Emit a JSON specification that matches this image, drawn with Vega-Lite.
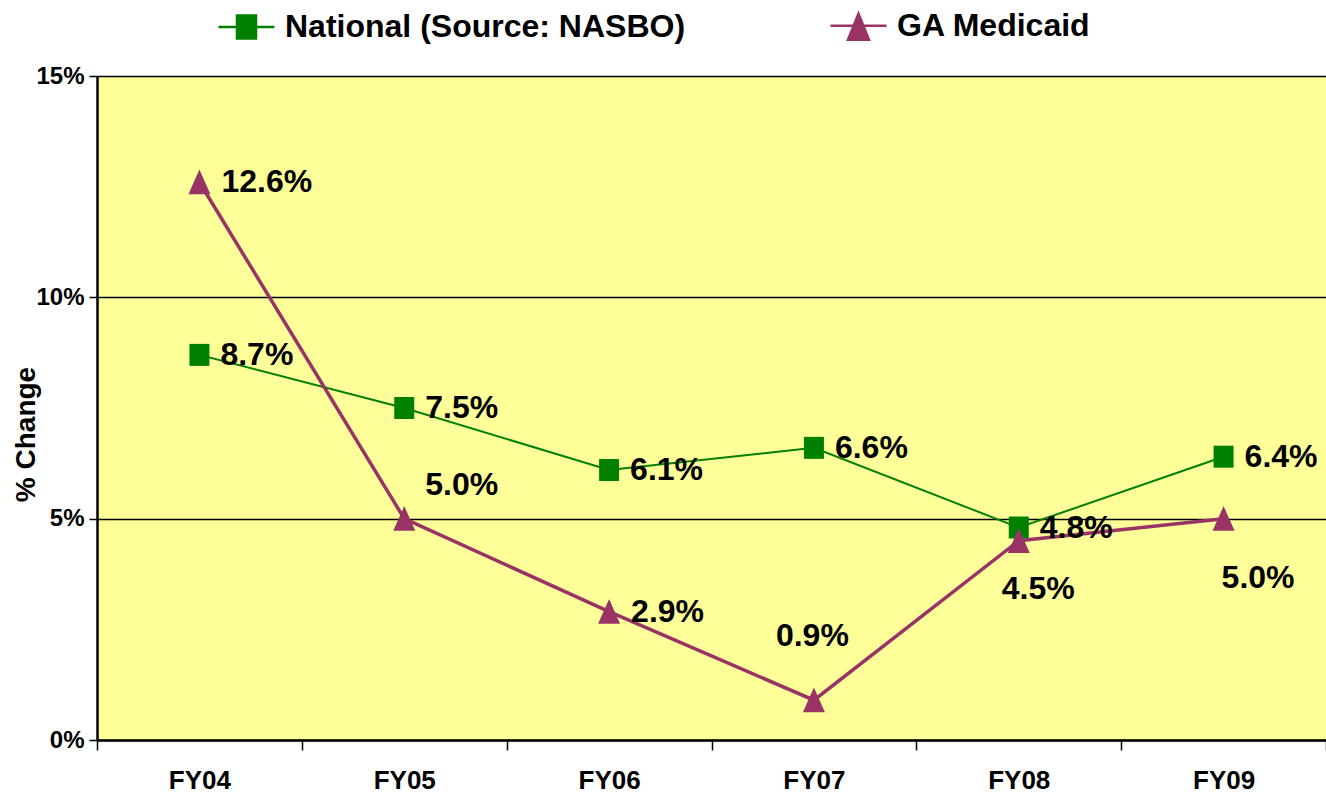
{
  "$schema": "https://vega.github.io/schema/vega-lite/v6.json",
  "width": 1229,
  "height": 664,
  "autosize": "none",
  "padding": {"left": 97, "top": 76, "right": 0, "bottom": 65},
  "background": "white",
  "config": {
    "view": {"fill": "#FFFF99", "stroke": null},
    "font": "Liberation Sans"
  },
  "data": {
    "values": [
      {"year": "FY04", "series": "National (Source: NASBO)", "value": 0.087},
      {"year": "FY05", "series": "National (Source: NASBO)", "value": 0.075},
      {"year": "FY06", "series": "National (Source: NASBO)", "value": 0.061},
      {"year": "FY07", "series": "National (Source: NASBO)", "value": 0.066},
      {"year": "FY08", "series": "National (Source: NASBO)", "value": 0.048},
      {"year": "FY09", "series": "National (Source: NASBO)", "value": 0.064},
      {"year": "FY04", "series": "GA Medicaid", "value": 0.126},
      {"year": "FY05", "series": "GA Medicaid", "value": 0.050},
      {"year": "FY06", "series": "GA Medicaid", "value": 0.029},
      {"year": "FY07", "series": "GA Medicaid", "value": 0.009},
      {"year": "FY08", "series": "GA Medicaid", "value": 0.045},
      {"year": "FY09", "series": "GA Medicaid", "value": 0.050}
    ]
  },
  "encoding": {
    "x": {
      "field": "year",
      "type": "nominal",
      "sort": null,
      "scale": {"type": "band", "paddingInner": 0, "paddingOuter": 0},
      "axis": {
        "title": null,
        "tickBand": "extent",
        "labelAngle": 0,
        "labelFont": "Liberation Sans",
        "labelFontSize": 26,
        "labelFontWeight": "bold",
        "labelColor": "black",
        "labelPadding": 17,
        "tickSize": 10,
        "tickColor": "black",
        "tickWidth": 1.5,
        "domainColor": "black",
        "domainWidth": 2.5,
        "grid": false
      }
    },
    "y": {
      "field": "value",
      "type": "quantitative",
      "scale": {"domain": [0, 0.15], "nice": false},
      "axis": {
        "title": "% Change",
        "values": [0, 0.05, 0.1, 0.15],
        "format": ".0%",
        "labelFont": "Liberation Sans",
        "labelFontSize": 24,
        "labelFontWeight": "bold",
        "labelColor": "black",
        "labelPadding": 5,
        "tickSize": 8,
        "tickColor": "black",
        "tickWidth": 1.5,
        "domainColor": "black",
        "domainWidth": 2.5,
        "grid": true,
        "gridColor": "black",
        "gridWidth": 1.5,
        "titleFont": "Liberation Sans",
        "titleFontSize": 28,
        "titleFontWeight": "bold",
        "titleColor": "black",
        "titleAngle": -90,
        "titleX": -71,
        "titleY": 358,
        "titleAlign": "center",
        "titleBaseline": "middle"
      }
    }
  },
  "layer": [
    {
      "transform": [{"filter": "datum.series == 'National (Source: NASBO)'"}],
      "mark": {"type": "line", "color": "#008000", "strokeWidth": 2}
    },
    {
      "transform": [{"filter": "datum.series == 'National (Source: NASBO)'"}],
      "mark": {"type": "point", "shape": "M-1,-1.1H1V1.1H-1Z", "filled": true, "size": 400, "color": "#008000", "opacity": 1}
    },
    {
      "transform": [{"filter": "datum.series == 'GA Medicaid'"}],
      "mark": {"type": "line", "color": "#993366", "strokeWidth": 3.5}
    },
    {
      "transform": [{"filter": "datum.series == 'GA Medicaid'"}],
      "mark": {"type": "point", "shape": "M0,-1.15L1,1.1H-1Z", "filled": true, "size": 484, "color": "#993366", "opacity": 1}
    },
    {
      "transform": [{"filter": "false"}],
      "mark": {"type": "point", "filled": true, "opacity": 1},
      "encoding": {
        "color": {
          "field": "series",
          "type": "nominal",
          "scale": {"domain": ["National (Source: NASBO)", "GA Medicaid"], "range": ["#008000", "#993366"]},
          "legend": {
            "title": null,
            "orient": "none",
            "legendX": 120,
            "legendY": -80,
            "direction": "horizontal",
            "columns": 2,
            "symbolSize": 3136,
            "symbolStrokeWidth": 2.5,
            "symbolOpacity": 1,
            "labelFont": "Liberation Sans",
            "labelFontSize": 32,
            "labelFontWeight": "bold",
            "labelColor": "black",
            "labelOffset": 9,
            "labelLimit": 700,
            "columnPadding": 139,
            "padding": 0,
            "encode": {"symbols": {"update": {"stroke": {"scale": "color", "field": "value"}}}}
          }
        },
        "shape": {
          "field": "series",
          "type": "nominal",
          "scale": {
            "domain": ["National (Source: NASBO)", "GA Medicaid"],
            "range": ["M-1,0H1M-0.34,-0.41H0.34V0.41H-0.34Z", "M-1,0H1M0,-0.43L0.375,0.5H-0.375Z"]
          },
          "legend": {
            "title": null,
            "orient": "none",
            "legendX": 120,
            "legendY": -80,
            "direction": "horizontal",
            "columns": 2,
            "symbolSize": 3136,
            "symbolStrokeWidth": 2.5,
            "symbolOpacity": 1,
            "labelFont": "Liberation Sans",
            "labelFontSize": 32,
            "labelFontWeight": "bold",
            "labelColor": "black",
            "labelOffset": 9,
            "labelLimit": 700,
            "columnPadding": 139,
            "padding": 0,
            "encode": {"symbols": {"update": {"stroke": {"scale": "color", "field": "value"}}}}
          }
        }
      }
    },
    {
      "transform": [{"filter": "datum.series == 'National (Source: NASBO)'"}],
      "mark": {"type": "text", "fontSize": 32, "fontWeight": "bold", "font": "Liberation Sans", "align": "left", "baseline": "middle", "color": "black", "dx": 21},
      "encoding": {"text": {"field": "value", "format": ".1%"}}
    },
    {
      "transform": [{"filter": "datum.series == 'GA Medicaid' && (datum.year == 'FY04' || datum.year == 'FY06')"}],
      "mark": {"type": "text", "fontSize": 32, "fontWeight": "bold", "font": "Liberation Sans", "align": "left", "baseline": "middle", "color": "black", "dx": 22},
      "encoding": {"text": {"field": "value", "format": ".1%"}}
    },
    {
      "transform": [{"filter": "datum.series == 'GA Medicaid' && datum.year == 'FY05'"}],
      "mark": {"type": "text", "fontSize": 32, "fontWeight": "bold", "font": "Liberation Sans", "align": "left", "baseline": "middle", "color": "black", "dx": 21, "dy": -34},
      "encoding": {"text": {"field": "value", "format": ".1%"}}
    },
    {
      "transform": [{"filter": "datum.series == 'GA Medicaid' && datum.year == 'FY07'"}],
      "mark": {"type": "text", "fontSize": 32, "fontWeight": "bold", "font": "Liberation Sans", "align": "left", "baseline": "middle", "color": "black", "dx": -38, "dy": -64},
      "encoding": {"text": {"field": "value", "format": ".1%"}}
    },
    {
      "transform": [{"filter": "datum.series == 'GA Medicaid' && datum.year == 'FY08'"}],
      "mark": {"type": "text", "fontSize": 32, "fontWeight": "bold", "font": "Liberation Sans", "align": "left", "baseline": "middle", "color": "black", "dx": -17, "dy": 48},
      "encoding": {"text": {"field": "value", "format": ".1%"}}
    },
    {
      "transform": [{"filter": "datum.series == 'GA Medicaid' && datum.year == 'FY09'"}],
      "mark": {"type": "text", "fontSize": 32, "fontWeight": "bold", "font": "Liberation Sans", "align": "left", "baseline": "middle", "color": "black", "dx": -2, "dy": 59},
      "encoding": {"text": {"field": "value", "format": ".1%"}}
    }
  ]
}
